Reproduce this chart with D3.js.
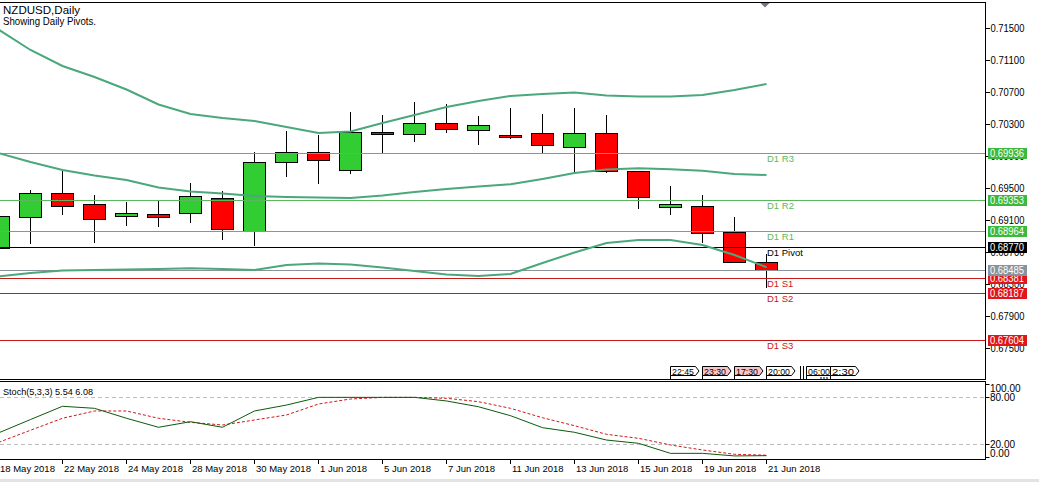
<!DOCTYPE html>
<html><head><meta charset="utf-8">
<script src="https://cdn.jsdelivr.net/npm/d3@7"></script>
<style>
html,body{margin:0;padding:0;background:#fff;}
svg{display:block;font-family:"Liberation Sans",Arial,sans-serif;}
</style></head><body>
<svg id="c" width="1039" height="482"></svg>
<script>
// ---------------- data ----------------
const dates = ["18 May 2018","21 May 2018","22 May 2018","23 May 2018","24 May 2018","25 May 2018","28 May 2018","29 May 2018","30 May 2018","31 May 2018","1 Jun 2018","4 Jun 2018","5 Jun 2018","6 Jun 2018","7 Jun 2018","8 Jun 2018","11 Jun 2018","12 Jun 2018","13 Jun 2018","14 Jun 2018","15 Jun 2018","18 Jun 2018","19 Jun 2018","20 Jun 2018","21 Jun 2018"];
const openP  = [0.68750,0.69138,0.69438,0.69300,0.69150,0.69175,0.69188,0.69375,0.68970,0.69825,0.69950,0.69725,0.70200,0.70175,0.70313,0.70225,0.70163,0.70188,0.70013,0.70188,0.69713,0.69263,0.69275,0.68958,0.68575];
const highP  = [0.69250,0.69491,0.69729,0.69429,0.69345,0.69366,0.69579,0.69479,0.69966,0.70225,0.70183,0.70466,0.70429,0.70591,0.70566,0.70416,0.70516,0.70441,0.70516,0.70429,0.69729,0.69538,0.69429,0.69154,0.68688];
const lowP   = [0.68660,0.68820,0.69183,0.68833,0.69045,0.69033,0.69083,0.68870,0.68795,0.69658,0.69570,0.69695,0.69958,0.70091,0.70204,0.70058,0.70130,0.69945,0.69716,0.69700,0.69258,0.69183,0.68833,0.68575,0.68270];
const closeP = [0.69150,0.69438,0.69283,0.69113,0.69188,0.69145,0.69400,0.68988,0.69825,0.69950,0.69850,0.70200,0.70175,0.70313,0.70238,0.70288,0.70138,0.70038,0.70188,0.69713,0.69388,0.69300,0.68938,0.68575,0.68485];

const bbUpper  = [0.71485,0.71229,0.71029,0.70891,0.70735,0.70548,0.70429,0.70379,0.70341,0.70266,0.70191,0.70210,0.70316,0.70416,0.70516,0.70591,0.70654,0.70679,0.70698,0.70660,0.70648,0.70648,0.70666,0.70729,0.70804];
const bbMiddle = [0.69941,0.69829,0.69729,0.69660,0.69604,0.69510,0.69460,0.69435,0.69404,0.69391,0.69385,0.69379,0.69410,0.69454,0.69491,0.69523,0.69550,0.69616,0.69691,0.69735,0.69750,0.69738,0.69720,0.69679,0.69666];
const bbLower  = [0.68398,0.68441,0.68473,0.68479,0.68485,0.68491,0.68500,0.68491,0.68479,0.68541,0.68560,0.68548,0.68510,0.68466,0.68423,0.68404,0.68429,0.68566,0.68698,0.68816,0.68854,0.68854,0.68791,0.68666,0.68513];

const stochMain   = [34.6,51.7,68.6,66.0,53.3,41.8,48.9,41.8,62.6,70.2,80.0,80.0,80.0,80.0,75.4,68.0,56.6,41.3,35.4,25.5,21.3,8.5,8.5,5.2,5.54];
const stochSignal = [22.5,38.0,53.3,62.6,62.6,53.3,48.1,44.7,51.1,57.5,71.5,77.9,80.0,80.0,78.8,74.5,66.0,54.0,43.8,32.8,27.7,19.2,12.8,7.3,6.08];
const stochLevels = [80, 20];
const stochTicks  = [100, 80, 20, 0];

const priceTicks  = [0.715,0.711,0.707,0.703,0.699,0.695,0.691,0.687,0.683,0.679,0.675];
const pivotNames  = ["D1 R3","D1 R2","D1 R1","D1 Pivot","D1 S1","D1 S2","D1 S3"];
const pivotValues = [0.69936,0.69353,0.68964,0.68770,0.68381,0.68187,0.67604];
const bidPrice    = 0.68485;

const sessionLabels    = ["22:45","23:30","17:30","20:00","06:00","2:30"];
const sessionBars      = [21,22,23,24,25.25,26];
const sessionHighlight = [false,true,true,false,false,false];

const titleLines = ["NZDUSD,Daily","Showing Daily Pivots."];
const stochTitle = "Stoch(5,3,3) 5.54 6.08";

// ---------------- styles ----------------
const BULL="#32cd32", BEAR="#ff0000", BAND="#4aa87a";
const RES="#5cb85c", SUP="#c41a1a", PIV="#000";
const BOX_RES="#3cb93c", BOX_SUP="#e0161a", BOX_PIV="#000", BOX_BID="#8a939b";

const svg = d3.select("#c");
const W = 985;              // right axis x
const mainTop = 2, mainBot = 379;
const stTop = 381, stBot = 459;

const x  = d3.scaleLinear().domain([0,24]).range([-1.5,766.5]);
const y  = d3.scaleLinear().domain([0.715,0.675]).range([28.3,348.3]);
const ys = d3.scaleLinear().domain([0,100]).range([460,381.7]);
const px = v => Math.round(v) + 0.5;

const defs = svg.append("defs");
defs.append("clipPath").attr("id","cm").append("rect").attr("x",0).attr("y",mainTop+1).attr("width",W).attr("height",mainBot-mainTop-1);
defs.append("clipPath").attr("id","cs").append("rect").attr("x",0).attr("y",stTop+1).attr("width",W).attr("height",stBot-stTop-1);

// ---------- main panel ----------
const gm = svg.append("g").attr("clip-path","url(#cm)");

// candles
const idx = d3.range(dates.length);
const cg = gm.append("g");
idx.forEach(i=>{
  const cx = x(i);
  cg.append("line").attr("x1",cx).attr("x2",cx)
    .attr("y1",px(y(highP[i]))).attr("y2",px(y(lowP[i])))
    .attr("stroke","#000").attr("stroke-width",1).attr("shape-rendering","crispEdges");
  const t = px(y(Math.max(openP[i],closeP[i])));
  let b = px(y(Math.min(openP[i],closeP[i])));
  if (b - t < 1) b = t + 1;
  cg.append("rect").attr("x",cx-11).attr("y",t).attr("width",22).attr("height",b-t)
    .attr("fill", closeP[i] >= openP[i] ? BULL : BEAR)
    .attr("stroke","#000").attr("stroke-width",1).attr("shape-rendering","crispEdges");
});

// pivot lines
const pivColor = n => n.indexOf(" R")>=0 ? RES : (n.indexOf("Pivot")>=0 ? PIV : SUP);
const boxColor = n => n.indexOf(" R")>=0 ? BOX_RES : (n.indexOf("Pivot")>=0 ? BOX_PIV : BOX_SUP);
gm.append("line").attr("x1",0).attr("x2",W).attr("y1",px(y(bidPrice))).attr("y2",px(y(bidPrice)))
  .attr("stroke","#8c9299").attr("stroke-width",1).attr("shape-rendering","crispEdges");
pivotNames.forEach((n,k)=>{
  const yy = px(y(pivotValues[k]));
  gm.append("line").attr("x1",0).attr("x2",W).attr("y1",yy).attr("y2",yy)
    .attr("stroke",pivColor(n)).attr("stroke-width",1).attr("shape-rendering","crispEdges");
  gm.append("text").attr("x",x(24)+0.5).attr("y",yy+8.5).text(n)
    .attr("font-size","9.5px").attr("fill",pivColor(n));
});

// bollinger bands
const bandLine = d3.line().x((d,i)=>x(i)).y(d=>y(d));
[bbUpper,bbMiddle,bbLower].forEach(arr=>{
  gm.append("path").attr("d",bandLine(arr)).attr("fill","none")
    .attr("stroke",BAND).attr("stroke-width",2);
});

// session labels
const sg = svg.append("g");
sessionLabels.forEach((s,k)=>{
  const bx = Math.round(x(sessionBars[k])) - 0.5;
  sg.append("line").attr("x1",bx).attr("x2",bx).attr("y1",366.5).attr("y2",mainBot)
    .attr("stroke","#000").attr("shape-rendering","crispEdges");
  sg.append("path").attr("d",`M${bx},366.5H${bx+25}L${bx+28.5},371L${bx+25},375.5H${bx}Z`)
    .attr("fill", sessionHighlight[k] ? "#f5c6ce" : "#fff").attr("stroke","#000").attr("stroke-width",1);
  sg.append("text").attr("x",bx+1.5).attr("y",374.5).text(s).attr("font-size","9.5px").attr("fill","#000")
    .attr("textLength",22).attr("lengthAdjust","spacingAndGlyphs");
});
{
  const bx = Math.round(x(sessionBars[4])) - 0.5;
  [bx-6, bx-3].forEach(xx=>sg.append("line").attr("x1",xx).attr("x2",xx).attr("y1",366).attr("y2",mainBot)
    .attr("stroke","#000").attr("shape-rendering","crispEdges"));
  [14,17,20].forEach(dx=>sg.append("rect").attr("x",bx+dx).attr("y",377).attr("width",1).attr("height",2).attr("fill","#000"));
}

// frame lines
svg.append("line").attr("x1",0).attr("x2",W+0.5).attr("y1",mainTop+0.5).attr("y2",mainTop+0.5).attr("stroke","#000");
svg.append("line").attr("x1",0).attr("x2",W+0.5).attr("y1",mainBot+0.5).attr("y2",mainBot+0.5).attr("stroke","#000");
svg.append("line").attr("x1",W+0.5).attr("x2",W+0.5).attr("y1",mainTop).attr("y2",mainBot+1).attr("stroke","#000");

// top triangle marker
{
  const tx = x(24) - 1.5;
  svg.append("path").attr("d",`M${tx-4.5},3L${tx+4.5},3L${tx},7.5Z`).attr("fill","#6e7680");
}

// price axis
const axis = d3.axisRight(y).tickValues(priceTicks).tickFormat(d3.format(".5f")).tickSize(4).tickPadding(1);
const ag = svg.append("g").attr("transform",`translate(${W+0.5},0)`).call(axis);
ag.select(".domain").remove();
ag.selectAll("line").attr("stroke","#000").attr("shape-rendering","crispEdges");
ag.selectAll("text").attr("font-size","10px").attr("font-family","Liberation Sans, Arial, sans-serif").attr("fill","#000")
  .attr("textLength",34).attr("lengthAdjust","spacingAndGlyphs");

// price boxes
const boxes = pivotNames.map((n,k)=>({v:pivotValues[k], c:boxColor(n)}));
boxes.push({v:bidPrice, c:BOX_BID});
boxes.forEach(b=>{
  const yy = y(b.v);
  svg.append("rect").attr("x",988).attr("y",Math.round(yy)-5).attr("width",39).attr("height",11).attr("fill",b.c);
  svg.append("text").attr("x",990).attr("y",Math.round(yy)+4).text(d3.format(".5f")(b.v))
    .attr("font-size","10px").attr("fill","#fff").attr("textLength",34).attr("lengthAdjust","spacingAndGlyphs");
});

// title
titleLines.forEach((t,k)=>{
  svg.append("text").attr("x",3).attr("y",14 + k*10.5).text(t).attr("font-size","10.5px").attr("fill","#000")
    .attr("textLength", k===0 ? 77 : 93).attr("lengthAdjust","spacingAndGlyphs");
});

// ---------- stochastic panel ----------
svg.append("line").attr("x1",0).attr("x2",W+0.5).attr("y1",stTop+0.5).attr("y2",stTop+0.5).attr("stroke","#000");
svg.append("line").attr("x1",0).attr("x2",W+0.5).attr("y1",stBot+0.5).attr("y2",stBot+0.5).attr("stroke","#000");
svg.append("line").attr("x1",W+0.5).attr("x2",W+0.5).attr("y1",stTop).attr("y2",stBot+1).attr("stroke","#000");

const gs = svg.append("g").attr("clip-path","url(#cs)");
stochLevels.forEach(l=>{
  gs.append("line").attr("x1",0).attr("x2",W).attr("y1",px(ys(l))).attr("y2",px(ys(l)))
    .attr("stroke","#bdbdbd").attr("stroke-dasharray","4,3").attr("shape-rendering","crispEdges");
});
const sl = d3.line().x((d,i)=>x(i)).y(d=>ys(d));
gs.append("path").attr("d",sl(stochSignal)).attr("fill","none").attr("stroke","#d01818").attr("stroke-width",1).attr("stroke-dasharray","3,2");
gs.append("path").attr("d",sl(stochMain)).attr("fill","none").attr("stroke","#0b5a0b").attr("stroke-width",1);

svg.append("text").attr("x",3).attr("y",394.5).text(stochTitle).attr("font-size","9.5px").attr("fill","#000")
  .attr("textLength",90).attr("lengthAdjust","spacingAndGlyphs");

stochTicks.forEach(v=>{
  const ty = Math.min(Math.max(px(ys(v)), 384.5), 457.5);
  svg.append("line").attr("x1",W+0.5).attr("x2",W+4.5).attr("y1",ty).attr("y2",ty).attr("stroke","#000");
  const ly = Math.min(Math.max(ys(v)+3.5, 391.5), 457);
  svg.append("text").attr("x",990).attr("y",ly).text(d3.format(".2f")(v)).attr("font-size","10px").attr("fill","#000");
});

// date axis
idx.filter(i=>i%2===0).forEach(i=>{
  const tx = Math.round(x(i)) - 0.5;
  svg.append("line").attr("x1",tx).attr("x2",tx).attr("y1",stBot+1).attr("y2",stBot+5).attr("stroke","#000");
  svg.append("text").attr("x",tx+1.5).attr("y",471.5).text(dates[i]).attr("font-size","9.5px").attr("fill","#000");
});

// bottom window strip
svg.append("rect").attr("x",0).attr("y",479).attr("width",1039).attr("height",3).attr("fill","#e3e3e3");
</script>
</body></html>
